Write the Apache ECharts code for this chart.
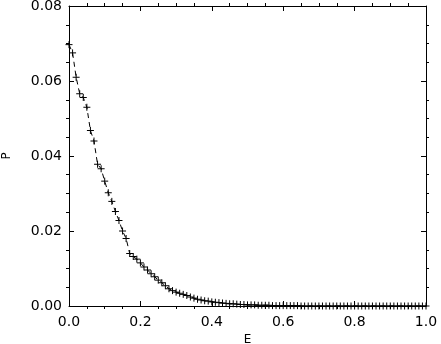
<!DOCTYPE html>
<html>
<head>
<meta charset="utf-8">
<script src="https://cdn.jsdelivr.net/npm/echarts@6/dist/echarts.min.js"></script>
<style>
  html, body { margin: 0; padding: 0; background: #fff; }
  #chart { width: 441px; height: 344px; }
</style>
</head>
<body>
<div id="chart"></div>
<script>
  var energies = [
    0.00, 0.01, 0.02, 0.03, 0.04, 0.05, 0.06, 0.07, 0.08, 0.09,
    0.10, 0.11, 0.12, 0.13, 0.14, 0.15, 0.16, 0.17, 0.18, 0.19,
    0.20, 0.21, 0.22, 0.23, 0.24, 0.25, 0.26, 0.27, 0.28, 0.29,
    0.30, 0.31, 0.32, 0.33, 0.34, 0.35, 0.36, 0.37, 0.38, 0.39,
    0.40, 0.41, 0.42, 0.43, 0.44, 0.45, 0.46, 0.47, 0.48, 0.49,
    0.50, 0.51, 0.52, 0.53, 0.54, 0.55, 0.56, 0.57, 0.58, 0.59,
    0.60, 0.61, 0.62, 0.63, 0.64, 0.65, 0.66, 0.67, 0.68, 0.69,
    0.70, 0.71, 0.72, 0.73, 0.74, 0.75, 0.76, 0.77, 0.78, 0.79,
    0.80, 0.81, 0.82, 0.83, 0.84, 0.85, 0.86, 0.87, 0.88, 0.89,
    0.90, 0.91, 0.92, 0.93, 0.94, 0.95, 0.96, 0.97, 0.98, 0.99, 1.00
  ];
  var probs = [
    0.0697, 0.0675, 0.0610, 0.0566, 0.0556, 0.0530, 0.0468, 0.0440, 0.0378, 0.0366,
    0.0333, 0.0302, 0.0279, 0.0252, 0.0228, 0.0200, 0.0180, 0.0140, 0.0132, 0.0125,
    0.0115, 0.0104, 0.0096, 0.0086, 0.0078, 0.0069, 0.0062, 0.0054, 0.0046, 0.0041,
    0.0037, 0.0034, 0.0031, 0.0028, 0.0024, 0.0021, 0.0018, 0.0016, 0.0014, 0.0013,
    0.0011, 0.0010, 0.0009, 0.0008, 0.0007, 0.0006, 0.0006, 0.0005, 0.0004, 0.0004,
    0.0003, 0.0003, 0.0003, 0.0002, 0.0002, 0.0002, 0.0002, 0.0001, 0.0001, 0.0001,
    0.0001, 0.0001, 0.0001, 0.0001, 0.0001, 0.0000, 0.0000, 0.0000, 0.0000, 0.0000,
    0.0000, 0.0000, 0.0000, 0.0000, 0.0000, 0.0000, 0.0000, 0.0000, 0.0000, 0.0000,
    0.0000, 0.0000, 0.0000, 0.0000, 0.0000, 0.0000, 0.0000, 0.0000, 0.0000, 0.0000,
    0.0000, 0.0000, 0.0000, 0.0000, 0.0000, 0.0000, 0.0000, 0.0000, 0.0000, 0.0000, 0.0000
  ];
  var xTicks = ['0.0', '0.2', '0.4', '0.6', '0.8', '1.0'];
  var yTicks = ['0.00', '0.02', '0.04', '0.06', '0.08'];

  var font = 'DejaVu Sans';
  var tickStyle = { show: true, inside: true, length: 5, lineStyle: { color: '#000', width: 1 } };
  // minor ticks ignore axisTick.inside, so flip them with a negative length
  var minorStyle = { show: true, splitNumber: 4, length: -3, lineStyle: { color: '#000', width: 1 } };
  var lineStyle = { show: true, onZero: false, lineStyle: { color: '#000', width: 1 } };

  var points = energies.map(function (e, i) { return [e, probs[i]]; });

  var chart = echarts.init(document.getElementById('chart'));
  chart.setOption({
    animation: false,
    backgroundColor: '#fff',
    grid: { left: 69, right: 15, top: 6, bottom: 38, outerBoundsMode: 'none', containLabel: false },
    xAxis: [{
      type: 'value', min: 0, max: 1, interval: 0.2, position: 'bottom',
      name: 'E', nameLocation: 'middle', nameGap: 18,
      nameTextStyle: { fontFamily: font, fontSize: 12, color: '#000' },
      axisLine: lineStyle, axisTick: tickStyle, minorTick: minorStyle,
      splitLine: { show: false },
      axisLabel: {
        fontFamily: font, fontSize: 14, color: '#000', margin: 9,
        formatter: function (v) { return xTicks[Math.round(v / 0.2)]; }
      }
    }, {
      type: 'value', min: 0, max: 1, interval: 0.2, position: 'top',
      axisLine: lineStyle, axisTick: tickStyle, minorTick: minorStyle,
      splitLine: { show: false }, axisLabel: { show: false }
    }],
    yAxis: [{
      type: 'value', min: 0, max: 0.08, interval: 0.02, position: 'left',
      name: 'P', nameLocation: 'middle', nameGap: 56, nameRotate: 90,
      nameTextStyle: { fontFamily: font, fontSize: 12, color: '#000' },
      axisLine: lineStyle, axisTick: tickStyle, minorTick: minorStyle,
      splitLine: { show: false },
      axisLabel: {
        fontFamily: font, fontSize: 14, color: '#000', margin: 7,
        formatter: function (v) { return yTicks[Math.round(v / 0.02)]; }
      }
    }, {
      type: 'value', min: 0, max: 0.08, interval: 0.02, position: 'right',
      axisLine: lineStyle, axisTick: tickStyle, minorTick: minorStyle,
      splitLine: { show: false }, axisLabel: { show: false }
    }],
    series: [{
      type: 'line',
      data: points,
      symbol: 'path://M0,-1L0,1M-1,0L1,0',
      symbolSize: 7,
      itemStyle: { color: 'none', borderColor: '#000', borderWidth: 1 },
      lineStyle: { color: '#000', width: 1, type: [5, 4] },
      clip: false
    }]
  });
</script>
</body>
</html>
